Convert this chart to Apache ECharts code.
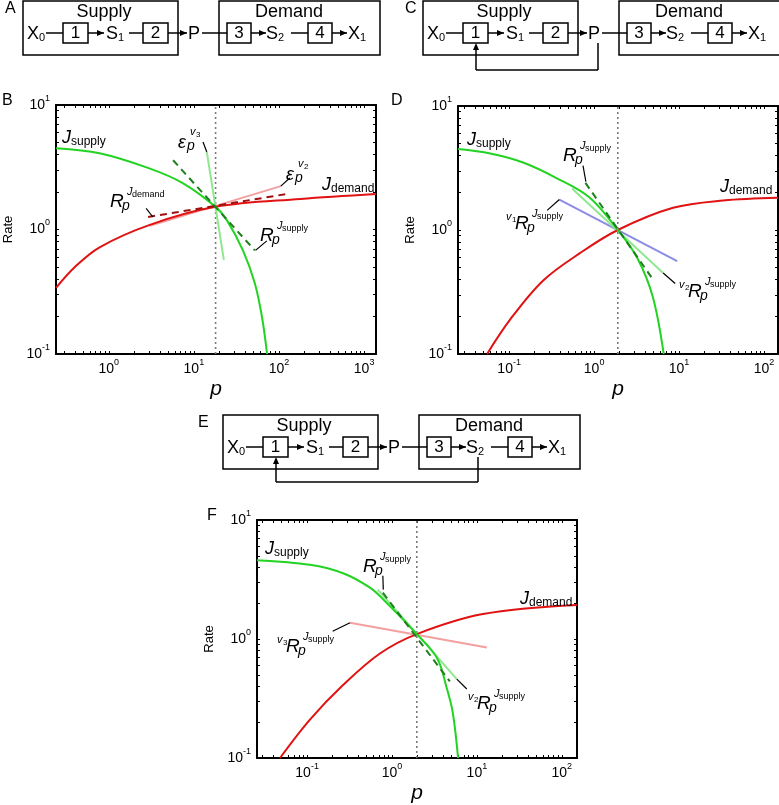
<!DOCTYPE html>
<html>
<head>
<meta charset="utf-8">
<script src="https://cdn.jsdelivr.net/npm/echarts@6/dist/echarts.min.js"></script>
<style>
  html, body { margin: 0; padding: 0; background: #fff; }
  #chart { width: 779px; height: 805px; }
</style>
</head>
<body>
<div id="chart"></div>
<script>
// ---- data (p, rate) ----
// panel B
const bXRange = [0.24, 1380]
const bSupply = [[0.24, 4.5], [0.78, 4.1], [3, 3.1], [7.4, 2.36], [18, 1.52], [24.4, 1.19], [37.7, 0.68], [52, 0.37], [63, 0.2], [72.5, 0.1]]
const bDemand = [[0.24, 0.34], [0.4, 0.5], [0.78, 0.72], [3.04, 1.09], [18, 1.52], [178, 1.76], [1380, 1.93]]
const bEpsV3 = [[14.2, 4.19], [22.5, 0.57]]
const bEpsV2 = [[3.04, 1.07], [105, 2.23]]
const bRDemand = [[2.9, 1.26], [124, 1.93]]
const bRSupply = [[5.7, 3.6], [52, 0.68]]
const bCross = 18
// panel D
const dXRange = [0.025, 146]
const dSupply = [[0.025, 4.5], [0.06, 4.14], [0.146, 3.5], [0.37, 2.6], [0.89, 1.82], [1.9, 1.0], [3.2, 0.6], [4.9, 0.29], [6.6, 0.1]]
const dDemand = [[0.055, 0.1], [0.103, 0.19], [0.25, 0.39], [0.68, 0.65], [1.9, 1.0], [8.5, 1.51], [33, 1.73], [146, 1.82]]
const dV1R = [[0.39, 1.76], [9.5, 0.56]]
const dV2R = [[0.55, 2.16], [6.5, 0.45]]
const dR = [[0.79, 2.4], [4.8, 0.41]]
const dCross = 1.9
// panel F
const fXRange = [0.0257, 151]
const fSupply = [[0.0257, 4.6], [0.108, 4.2], [0.27, 3.55], [0.55, 2.7], [0.79, 2.15], [1.96, 1.1], [3.4, 0.69], [4.4, 0.39], [5.2, 0.24], [6.0, 0.1]]
const fDemand = [[0.048, 0.1], [0.108, 0.21], [0.265, 0.41], [0.72, 0.755], [1.96, 1.1], [11.8, 1.62], [151, 1.93]]
const fV3R = [[0.32, 1.37], [13.1, 0.85]]
const fV2R = [[0.68, 2.6], [5.8, 0.46]]
const fR = [[0.78, 2.45], [4.8, 0.44]]
const fCross = 1.96

const yRange = [0.1, 10]
const xMajorsB = [1, 10, 100, 1000]
const xMajorsDF = [0.1, 1, 10, 100]
const yMajors = [0.1, 1, 10]

// leader lines of the annotations (data coords)
const bLeaders = [
  [[12.8, 5.04], [14.2, 4.19]],
  [[105, 2.23], [134, 2.59]],
  [[2.75, 1.48], [3.3, 1.26]],
  [[53, 0.68], [72, 0.81]]
]
const dLeaders = [
  [[0.74, 3.3], [0.8, 2.45]],
  [[0.28, 1.44], [0.39, 1.76]],
  [[6.5, 0.45], [9, 0.37]]
]
const fLeaders = [
  [[0.78, 3.4], [0.79, 2.6]],
  [[0.2, 1.16], [0.32, 1.37]],
  [[5.8, 0.46], [7.6, 0.38]]
]

const FONT = '"Liberation Sans", Arial, Helvetica, sans-serif'
const GREEN = '#22d322'
const RED = '#e01212'

function minorTicks(lo, hi) {
  const out = []
  for (let e = -3; e <= 4; e++) {
    for (let k = 2; k <= 9; k++) {
      const v = k * Math.pow(10, e)
      if (v > lo && v < hi) out.push(+v.toPrecision(3))
    }
  }
  return out
}

const powRich = {
  b: { fontSize: 14, fontFamily: FONT, color: '#000', lineHeight: 22 },
  s: { fontSize: 9, fontFamily: FONT, color: '#000', lineHeight: 9, verticalAlign: 'top' }
}
function powLabel(v) {
  const e = Math.round(Math.log10(v))
  return '{b|10}{s|' + e + '}'
}

function xAxes(grid, range, majors) {
  const base = {
    type: 'log', gridIndex: grid, min: range[0], max: range[1],
    axisLine: { show: true, onZero: false, lineStyle: { color: '#000', width: 2 } },
    axisTick: { show: true, inside: true, length: 3, customValues: majors.concat(minorTicks(range[0], range[1])), lineStyle: { color: '#000', width: 1 } },
    splitLine: { show: false }
  }
  return [
    Object.assign({}, base, {
      position: 'bottom',
      axisLabel: { show: true, customValues: majors, formatter: powLabel, rich: powRich, margin: 4 },
      name: 'p', nameLocation: 'middle', nameGap: 25,
      nameTextStyle: { fontSize: 21, fontStyle: 'italic', fontFamily: FONT, color: '#000' }
    }),
    Object.assign({}, base, { position: 'top', axisLabel: { show: false } })
  ]
}
function yAxes(grid) {
  const base = {
    type: 'log', gridIndex: grid, min: yRange[0], max: yRange[1],
    axisLine: { show: true, onZero: false, lineStyle: { color: '#000', width: 2 } },
    axisTick: { show: true, inside: true, length: 3, customValues: yMajors.concat(minorTicks(yRange[0], yRange[1])), lineStyle: { color: '#000', width: 1 } },
    splitLine: { show: false }
  }
  return [
    Object.assign({}, base, {
      position: 'left',
      axisLabel: { show: true, customValues: yMajors, formatter: powLabel, rich: powRich, margin: 6 },
      name: 'Rate', nameLocation: 'middle', nameGap: 41,
      nameTextStyle: { fontSize: 13, fontFamily: FONT, color: '#000' }
    }),
    Object.assign({}, base, { position: 'right', axisLabel: { show: false } })
  ]
}

function ln(grid, data, color, width, type, z, smooth) {
  return {
    type: 'line', xAxisIndex: grid * 2, yAxisIndex: grid * 2, data: data,
    symbol: 'none', smooth: smooth || false, silent: true, z: z,
    lineStyle: { color: color, width: width, type: type || 'solid' }
  }
}
function vline(grid, x) {
  return ln(grid, [[x, yRange[0]], [x, yRange[1]]], '#7a7a7a', 1.6, [2, 3], 1)
}
function panelSeries(grid, supply, demand, light, dashed, leaders, cross) {
  const s = [vline(grid, cross)]
  light.forEach(l => s.push(ln(grid, l[0], l[1], 2, 'solid', 2)))
  s.push(ln(grid, demand, RED, 2, 'solid', 3, 0.35))
  s.push(ln(grid, supply, GREEN, 2, 'solid', 3, 0.35))
  dashed.forEach(l => s.push(ln(grid, l[0], l[1], 2, [7, 5], 4)))
  leaders.forEach(l => s.push(ln(grid, l, '#000', 1.2, 'solid', 5)))
  return s
}

// ---- text pieces (x, baseline) ----
function tx(x, base, text, size, italic) {
  return {
    type: 'text', silent: true, z: 100,
    style: {
      x: x, y: base - 0.35 * size, text: text, fill: '#000',
      fontSize: size, fontFamily: FONT, fontStyle: italic ? 'italic' : 'normal',
      align: 'left', verticalAlign: 'middle'
    }
  }
}
function jLabel(x, base, sub) {
  return [tx(x, base, 'J', 18, true), tx(x + 9, base + 2, sub, 12)]
}
function rLabel(x, base, sub, pre) {
  const out = []
  let x0 = x
  if (pre) {
    out.push(tx(x, base - 9, 'v', 11, true))
    out.push(tx(x + 6, base - 7, pre, 8))
    x0 = x + 9
  }
  out.push(tx(x0, base, 'R', 19, true))
  out.push(tx(x0 + 12, base + 3, 'p', 14, true))
  out.push(tx(x0 + 17, base - 12, 'J', 11, true))
  out.push(tx(x0 + 22, base - 10, sub, 9))
  return out
}
function epsLabel(x, base, n) {
  return [
    tx(x, base, 'ε', 18, true), tx(x + 9, base + 2, 'p', 14, true),
    tx(x + 12, base - 13, 'v', 11, true), tx(x + 18, base - 11, n, 8)
  ]
}

// ---- reaction diagrams ----
function diagram(ox, oy, fb) {
  const els = []
  const K = { stroke: '#000', lineWidth: 1.5, fill: 'none' }
  const rect = (x1, y1, x2, y2) => els.push({ type: 'rect', silent: true, shape: { x: ox + x1, y: oy + y1, width: x2 - x1, height: y2 - y1 }, style: K })
  const seg = (x1, y1, x2, y2) => els.push({ type: 'line', silent: true, shape: { x1: ox + x1, y1: oy + y1, x2: ox + x2, y2: oy + y2 }, style: K })
  const headR = (x, y) => els.push({ type: 'polygon', silent: true, shape: { points: [[ox + x, oy + y], [ox + x - 7, oy + y - 3], [ox + x - 7, oy + y + 3]] }, style: { fill: '#000' } })
  const headU = (x, y) => els.push({ type: 'polygon', silent: true, shape: { points: [[ox + x, oy + y], [ox + x - 3, oy + y + 7], [ox + x + 3, oy + y + 7]] }, style: { fill: '#000' } })
  const t = (x, b, s, size) => els.push(tx(ox + x, oy + b, s, size))
  const ct = (x, b, s, size) => { const e = tx(ox + x, oy + b, s, size); e.style.align = 'center'; els.push(e) }
  const R = 33
  rect(23, 1, 178, 55)
  rect(219, 1, 380, 55)
  ct(104, 18, 'Supply', 18)
  ct(289, 18, 'Demand', 18)
  t(27, 40, 'X', 18); t(39, 42, '0', 11)
  seg(46, R, 63, R)
  rect(63, 23, 88, 43); ct(75.5, 39, '1', 17)
  seg(88, R, 104, R); headR(104, R)
  t(106, 40, 'S', 18); t(118, 42, '1', 11)
  seg(129, R, 143, R)
  rect(143, 23, 168, 43); ct(155.5, 39, '2', 17)
  seg(168, R, 187, R); headR(187, R)
  t(188, 40, 'P', 18)
  seg(202, R, 227, R)
  rect(227, 23, 251, 43); ct(239, 39, '3', 17)
  seg(251, R, 266, R); headR(266, R)
  t(266, 40, 'S', 18); t(278, 42, '2', 11)
  seg(291, R, 308, R)
  rect(308, 23, 332, 43); ct(320, 39, '4', 17)
  seg(332, R, 347, R); headR(347, R)
  t(348, 40, 'X', 18); t(360, 42, '1', 11)
  if (fb) {
    seg(fb[0], 43, fb[0], fb[1])
    seg(fb[0], fb[1], 76, fb[1])
    seg(76, fb[1], 76, 46)
    headU(76, 43)
  }
  return els
}

const graphics = [].concat(
  diagram(0, 0, null),
  diagram(400, 0, [198, 70]),
  diagram(200, 414, [278, 68]),
  [tx(5, 14, 'A', 16), tx(405, 14, 'C', 16), tx(198, 428, 'E', 16),
   tx(2, 106, 'B', 16), tx(391, 106, 'D', 16), tx(207, 521, 'F', 16)],
  // panel B labels
  jLabel(62, 144, 'supply'), jLabel(322, 191, 'demand'),
  epsLabel(178, 149, '3'), epsLabel(286, 181, '2'),
  rLabel(110, 208, 'demand'), rLabel(260, 242, 'supply'),
  // panel D labels
  jLabel(467, 146, 'supply'), jLabel(720, 193, 'demand'),
  rLabel(563, 162, 'supply'), rLabel(506, 230, 'supply', '1'), rLabel(679, 298, 'supply', '2'),
  // panel F labels
  jLabel(265, 555, 'supply'), jLabel(520, 605, 'demand'),
  rLabel(363, 573, 'supply'), rLabel(277, 653, 'supply', '3'), rLabel(468, 710, 'supply', '2')
)

const option = {
  animation: false,
  backgroundColor: '#fff',
  grid: [
    { left: 56, top: 105, width: 320, height: 249 },
    { left: 458, top: 106, width: 320, height: 248 },
    { left: 257, top: 520, width: 320, height: 246 }
  ],
  xAxis: [].concat(xAxes(0, bXRange, xMajorsB), xAxes(1, dXRange, xMajorsDF), xAxes(2, fXRange, xMajorsDF)),
  yAxis: [].concat(yAxes(0), yAxes(1), yAxes(2)),
  series: [].concat(
    panelSeries(0, bSupply, bDemand, [[bEpsV3, '#8fe88f'], [bEpsV2, '#f2a0a0']], [[bRDemand, '#a01010'], [bRSupply, '#1f7f1f']], bLeaders, bCross),
    panelSeries(1, dSupply, dDemand, [[dV1R, '#8c8ce6'], [dV2R, '#8fe88f']], [[dR, '#1f7f1f']], dLeaders, dCross),
    panelSeries(2, fSupply, fDemand, [[fV3R, '#f2a0a0'], [fV2R, '#8fe88f']], [[fR, '#1f7f1f']], fLeaders, fCross)
  ),
  graphic: graphics
}

const chart = echarts.init(document.getElementById('chart'))
chart.setOption(option)
window.addEventListener('resize', () => chart.resize())
</script>
</body>
</html>
